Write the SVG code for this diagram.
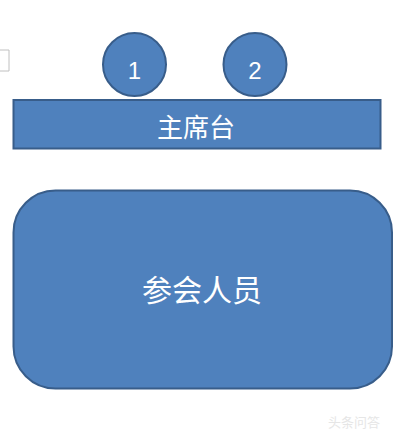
<svg xmlns="http://www.w3.org/2000/svg" width="409" height="439" viewBox="0 0 409 439">
<style>
.shape{fill:#4f81bd;stroke:#385d8a;stroke-width:2}
.lbl{fill:#ffffff;font-family:"Noto Sans CJK SC","Liberation Sans",sans-serif;text-anchor:middle}
.num{fill:#ffffff;font-family:"Liberation Sans","Noto Sans CJK SC",sans-serif;text-anchor:middle;font-size:24px}
.wm{fill:#e6e6e6;font-family:"Noto Sans CJK SC",sans-serif;font-size:13px}
</style>
<rect width="409" height="439" fill="#ffffff"/>
<path d="M0 50 H9 V71 H0" fill="none" stroke="#c0c0c0" stroke-width="1"/>
<g id="seat1">
<circle class="shape" cx="134.5" cy="64.5" r="31.5"/>
<text class="num" x="134.5" y="79">1</text>
</g>
<g id="seat2">
<circle class="shape" cx="255" cy="64.5" r="31.5"/>
<text class="num" x="255" y="79">2</text>
</g>
<g id="podium">
<rect class="shape" x="13.5" y="100" width="367" height="48.5"/>
<text class="lbl" x="196" y="137" font-size="26">主席台</text>
</g>
<g id="attendees">
<rect class="shape" x="13.5" y="190.5" width="378.5" height="198" rx="42" ry="42"/>
<text class="lbl" x="202" y="301" font-size="30">参会人员</text>
</g>
<g id="connectors"></g>
<text class="wm" x="328" y="427">头条问答</text>
</svg>
